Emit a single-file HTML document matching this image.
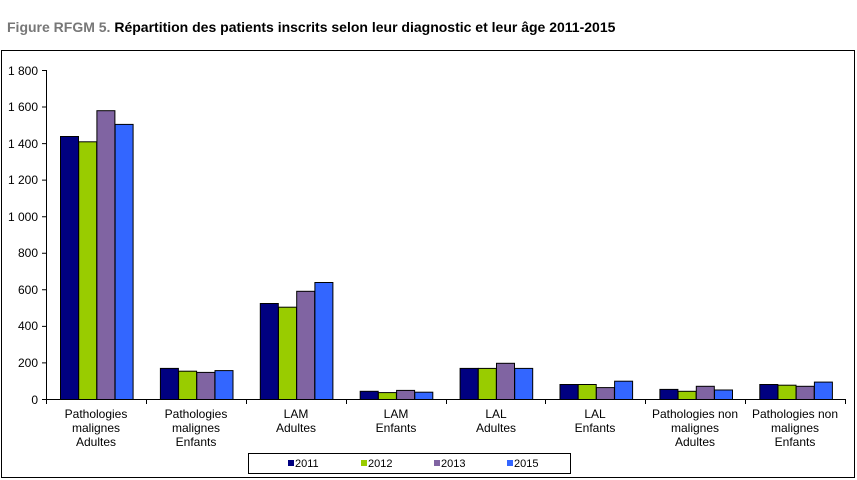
<!DOCTYPE html>
<html><head><style>body{margin:0;background:#fff}svg{display:block;font-family:"Liberation Sans",Arial,sans-serif}</style></head><body>
<svg width="857" height="480" xmlns="http://www.w3.org/2000/svg">
<text x="7" y="32" font-size="14" font-weight="bold" fill="#777">Figure RFGM 5. <tspan fill="#000">Répartition des patients inscrits selon leur diagnostic et leur âge 2011-2015</tspan></text>
<rect x="1.5" y="50.5" width="853" height="427" fill="#fff" stroke="#000" stroke-width="1"/>
<g font-size="12" fill="#000" text-anchor="end">
<text x="38" y="404">0</text><text x="38" y="367">200</text><text x="38" y="330">400</text><text x="38" y="294">600</text><text x="38" y="257">800</text><text x="38" y="221">1 000</text><text x="38" y="184">1 200</text><text x="38" y="148">1 400</text><text x="38" y="111">1 600</text><text x="38" y="75">1 800</text>
</g>
<g stroke="#000" stroke-width="1">
<g fill="#000080">
<rect x="60.5" y="136.5" width="18" height="263"/>
<rect x="160.4" y="368.4" width="18" height="31.1"/>
<rect x="260.3" y="303.5" width="18" height="96"/>
<rect x="360.2" y="391.3" width="18" height="8.2"/>
<rect x="460.1" y="368.4" width="18" height="31.1"/>
<rect x="560" y="384.5" width="18" height="15"/>
<rect x="659.9" y="389.4" width="18" height="10.1"/>
<rect x="759.8" y="384.5" width="18" height="15"/>
</g>
<g fill="#99cc00">
<rect x="78.7" y="141.8" width="18" height="257.7"/>
<rect x="178.6" y="371.2" width="18" height="28.3"/>
<rect x="278.5" y="307.2" width="18" height="92.3"/>
<rect x="378.4" y="392.6" width="18" height="6.9"/>
<rect x="478.3" y="368.4" width="18" height="31.1"/>
<rect x="578.2" y="384.5" width="18" height="15"/>
<rect x="678.1" y="391.3" width="18" height="8.2"/>
<rect x="778" y="385.2" width="18" height="14.3"/>
</g>
<g fill="#8064a2">
<rect x="96.9" y="110.7" width="18" height="288.8"/>
<rect x="196.8" y="372.4" width="18" height="27.1"/>
<rect x="296.7" y="291.3" width="18" height="108.2"/>
<rect x="396.6" y="390.4" width="18" height="9.1"/>
<rect x="496.5" y="363.3" width="18" height="36.2"/>
<rect x="596.4" y="387.6" width="18" height="11.9"/>
<rect x="696.3" y="386.3" width="18" height="13.2"/>
<rect x="796.2" y="386.3" width="18" height="13.2"/>
</g>
<g fill="#3366ff">
<rect x="115.1" y="124.4" width="18" height="275.1"/>
<rect x="215" y="370.6" width="18" height="28.9"/>
<rect x="314.9" y="282.5" width="18" height="117"/>
<rect x="414.8" y="392.2" width="18" height="7.3"/>
<rect x="514.7" y="368.4" width="18" height="31.1"/>
<rect x="614.6" y="381.2" width="18" height="18.3"/>
<rect x="714.5" y="390" width="18" height="9.5"/>
<rect x="814.4" y="382.1" width="18" height="17.4"/>
</g>
</g>
<g stroke="#000" stroke-width="1" fill="none">
<path d="M46.5 70V399.5H845"/>
<path d="M42 399.5h4M42 362.9h4M42 326.4h4M42 289.8h4M42 253.2h4M42 216.7h4M42 180.1h4M42 143.6h4M42 107h4M42 70.5h4"/>
<path d="M46.5 399v5M146.5 399v5M246.5 399v5M346.5 399v5M446.5 399v5M545.5 399v5M645.5 399v5M745.5 399v5M845.5 399v5"/>
</g>
<g font-size="12" fill="#000" text-anchor="middle">
<text x="96" y="418">Pathologies</text><text x="96" y="432">malignes</text><text x="96" y="446">Adultes</text>
<text x="196" y="418">Pathologies</text><text x="196" y="432">malignes</text><text x="196" y="446">Enfants</text>
<text x="296" y="418">LAM</text><text x="296" y="432">Adultes</text>
<text x="396" y="418">LAM</text><text x="396" y="432">Enfants</text>
<text x="496" y="418">LAL</text><text x="496" y="432">Adultes</text>
<text x="595" y="418">LAL</text><text x="595" y="432">Enfants</text>
<text x="695" y="418">Pathologies non</text><text x="695" y="432">malignes</text><text x="695" y="446">Adultes</text>
<text x="795" y="418">Pathologies non</text><text x="795" y="432">malignes</text><text x="795" y="446">Enfants</text>
</g>
<rect x="248.5" y="453.5" width="322" height="20" fill="#fff" stroke="#000"/>
<g font-size="11" fill="#000">
<rect x="288" y="460" width="6" height="6" fill="#000080"/><text x="295" y="467">2011</text>
<rect x="361" y="460" width="6" height="6" fill="#99cc00"/><text x="368" y="467">2012</text>
<rect x="434" y="460" width="6" height="6" fill="#8064a2"/><text x="441" y="467">2013</text>
<rect x="507" y="460" width="6" height="6" fill="#3366ff"/><text x="514" y="467">2015</text>
</g>
</svg>
</body></html>
